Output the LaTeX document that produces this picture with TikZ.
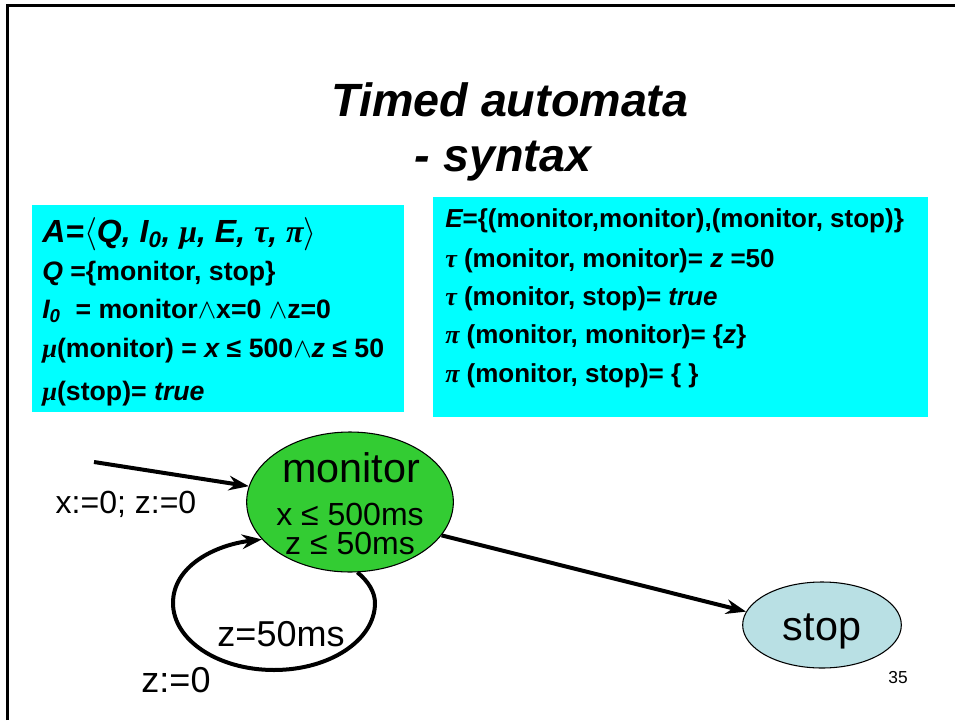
\documentclass[tikz,border=0pt]{standalone}
\usepackage{fontspec}
\setmainfont{Liberation Sans}
\newfontfamily\greekfont{Liberation Serif}
\usetikzlibrary{arrows.meta,shapes.geometric}
\definecolor{defcyan}{RGB}{0,255,255}
\definecolor{stategreen}{RGB}{51,204,51}
\definecolor{stopblue}{RGB}{185,224,228}
\newcommand\grk[1]{{\greekfont\bfseries\itshape #1}}

\begin{document}
\begin{tikzpicture}[x=0.75pt,y=-0.75pt,
  title/.style={anchor=base, inner sep=0, font=\fontsize{35}{40}\selectfont\bfseries\itshape},
  deftext/.style={anchor=base west, inner sep=0, font=\fontsize{#1}{24}\selectfont\bfseries},
  deftext/.default=20,
  defbox/.style={fill=defcyan, draw=none},
  state/.style={ellipse, draw=black, line width=0.8pt, inner sep=0},
  statetext/.style={anchor=base, inner sep=0, font=\fontsize{#1}{28}\selectfont},
  edge/.style={line width=3pt, -{Stealth[length=15pt,width=11pt,inset=5pt]}}
]
\useasboundingbox (0,0) rectangle (955,720);

% slide frame (left and top rules)
\draw[line width=1.8pt] (7.5,720) -- (7.5,5.5) -- (955,5.5);

% title
\node[title] (t1) at (510,117) {Timed automata};
\node[title] (t2) at (503,172) {- syntax};

% definition boxes
\fill[defbox] (32,205) rectangle (404,412);
\fill[defbox] (433,197) rectangle (928,417);

\node[deftext=24] (l1) at (42,243) {\itshape A=$\langle$Q, I\textsubscript{0}, \grk{μ}, E, \grk{τ}, \grk{π}$\rangle$};
\node[deftext] (l2) at (42,280) {{\itshape Q} =\{monitor, stop\}};
\node[deftext] (l3) at (42,318) {{\itshape I\textsubscript{0}}\ \ = monitor$\wedge$x=0 $\wedge$z=0};
\node[deftext] (l4) at (42,357) {\grk{μ}(monitor) = {\itshape x} ≤ 500$\wedge${\itshape z} ≤ 50};
\node[deftext] (l5) at (42,400) {\grk{μ}(stop)= {\itshape true}};

\node[deftext=19.5] (r1) at (445,227) {{\itshape E}=\{(monitor,monitor),(monitor, stop)\}};
\node[deftext=19.5] (r2) at (445,267) {\grk{τ} (monitor, monitor)= {\itshape z} =50};
\node[deftext=19.5] (r3) at (445,305) {\grk{τ} (monitor, stop)= {\itshape true}};
\node[deftext=19.5] (r4) at (445,343) {\grk{π} (monitor, monitor)= \{{\itshape z}\}};
\node[deftext=19.5] (r5) at (445,382) {\grk{π} (monitor, stop)= \{ \}};

% states
\node[state, fill=stategreen, minimum width=155pt, minimum height=105pt] (monitor) at (350,502) {};
\node[statetext=31] (mname) at (351,482) {monitor};
\node[statetext=24] (minv1) at (350,525) {x ≤ 500ms};
\node[statetext=24] (minv2) at (350,554) {z ≤ 50ms};

\node[state, fill=stopblue, minimum width=119pt, minimum height=64.5pt] (stop) at (822,625) {};
\node[statetext=31] (sname) at (822,640) {stop};

% transitions
\coordinate (init) at (94,462);
\draw[edge] (init) -- (monitor);
\node[statetext=24] (initlab) at (126,513) {x:=0; z:=0};

\draw[edge] (monitor.-20) -- (stop.170);

\draw[edge] (monitor.-84) .. controls (368,581) and (375,592) .. (375,603)
  .. controls (375,640) and (330,670) .. (274,670)
  .. controls (218,670) and (173,640) .. (173,603)
  .. controls (173,566) and (215,545) .. (monitor.203);
\node[statetext=27] (guard) at (281,646) {z=50ms};
\node[statetext=27] (reset) at (176,692) {z:=0};

% page number
\node[statetext=13] (page) at (898,683) {35};
\end{tikzpicture}
\end{document}
